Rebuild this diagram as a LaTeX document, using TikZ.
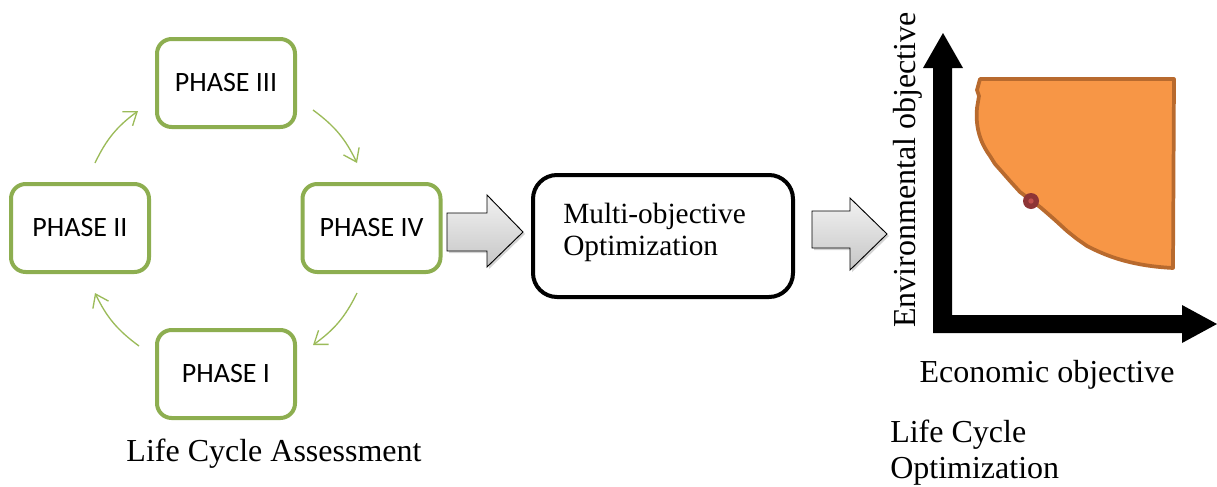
\documentclass[tikz,border=0pt]{standalone}
\usepackage{fontspec}
\setmainfont{Liberation Serif}
\newfontfamily\calib{Carlito}
\usetikzlibrary{arrows.meta,shadows}
\definecolor{phgreen}{HTML}{8DAE50}
\definecolor{argreen}{HTML}{9BBB59}
\definecolor{orfill}{HTML}{F79646}
\definecolor{ordraw}{HTML}{B86A2E}
\definecolor{dotred}{HTML}{8E3536}
\definecolor{dotin}{HTML}{C0504D}
\tikzset{
  phasebox/.style={draw=phgreen,line width=3pt,rounded corners=11pt,fill=white,
    minimum width=103.5pt,minimum height=66pt,font=\calib\fontsize{21}{24}\selectfont},
  cyclearrow/.style={draw=argreen,line width=1pt,-{Straight Barb[length=9pt,width=13pt,line width=1pt]}},
  blockarrow/.style={draw=black,line width=0.7pt,top color=gray!10,bottom color=gray!45,
    drop shadow={shadow xshift=1.5pt,shadow yshift=-1.5pt,opacity=0.35}},
  serif24/.style={font=\fontsize{24}{27}\selectfont},
}
\begin{document}
\begin{tikzpicture}[x=0.75pt,y=-0.75pt]
\useasboundingbox (0,0) rectangle (1217,486);
% phase boxes
\node[phasebox] (p3) at (226,83) {PHASE III};
\node[phasebox] (p2) at (80,228) {PHASE II};
\node[phasebox] (p4) at (371.5,228) {PHASE IV};
\node[phasebox] (p1) at (226,374) {PHASE I};
% cycle arrows
\coordinate (a1s) at (95,163); \coordinate (a1e) at (138,111);
\coordinate (a2s) at (313,110); \coordinate (a2e) at (357,163);
\coordinate (a3s) at (357,293); \coordinate (a3e) at (313,345);
\coordinate (a4s) at (139,346); \coordinate (a4e) at (95,293);
\draw[cyclearrow] (a1s) to[bend left=14] (a1e);
\draw[cyclearrow] (a2s) to[bend left=14] (a2e);
\draw[cyclearrow] (a3s) to[bend left=14] (a3e);
\draw[cyclearrow] (a4s) to[bend left=14] (a4e);
\node[draw=none] (lca) at (274,454) [serif24] {Life Cycle Assessment};
% block arrow 1
\path[blockarrow] (447,213) -- (487,213) -- (487,195) -- (523,232) -- (487,267) -- (487,251) -- (447,251) -- cycle;
% MOO box
\node[draw=black,line width=3pt,rounded corners=18pt,minimum width=195pt,minimum height=91.5pt,fill=white] (moo) at (663,236) {};
\node[anchor=base west,inner sep=0pt,font=\fontsize{22}{24}\selectfont] (mootxt) at (563,223) {Multi-objective};
\node[anchor=base west,inner sep=0pt,font=\fontsize{22}{24}\selectfont] (mootxt2) at (563,255) {Optimization};
% block arrow 2
\path[blockarrow] (812,211) -- (850,211) -- (850,198) -- (887,234) -- (850,270) -- (850,248) -- (812,248) -- cycle;
% plot region
\draw[draw=ordraw,fill=orfill,line width=2.8pt,line join=round]
  (980,79) -- (1174,79) -- (1173,268)
  .. controls (1135,266) and (1110,258) .. (1087,246)
  -- (1077,239) -- (1067,231) -- (1055,220) -- (1047,213) -- (1040,207) -- (1032,201)
  -- (1020,192) -- (1010,181) -- (1003,173) -- (995,164) -- (990,156)
  .. controls (982,145) and (975,130) .. (977,108)
  -- (979,96) -- (977,90) -- cycle;
% axes
\fill[black] (933,68) -- (923,68) -- (943,33) -- (963,68) -- (952,68) -- (952,315) -- (1182,315) -- (1182,305) -- (1217,324) -- (1182,343) -- (1182,333) -- (933,333) -- cycle;
% optimal point
\node[circle,fill=dotred,minimum size=12pt,inner sep=0pt] (opt) at (1031,201) {};
\fill[dotin] (opt.center) circle (2pt);
% labels
\node[serif24,rotate=90] (envlab) at (908,170) {Environmental objective};
\node[serif24,anchor=base] (ecolab) at (1047,382) {Economic objective};
\node[serif24,anchor=base west,inner sep=0pt] (lco1) at (890,442) {Life Cycle};
\node[serif24,anchor=base west,inner sep=0pt] (lco2) at (890,478) {Optimization};
\end{tikzpicture}
\end{document}
